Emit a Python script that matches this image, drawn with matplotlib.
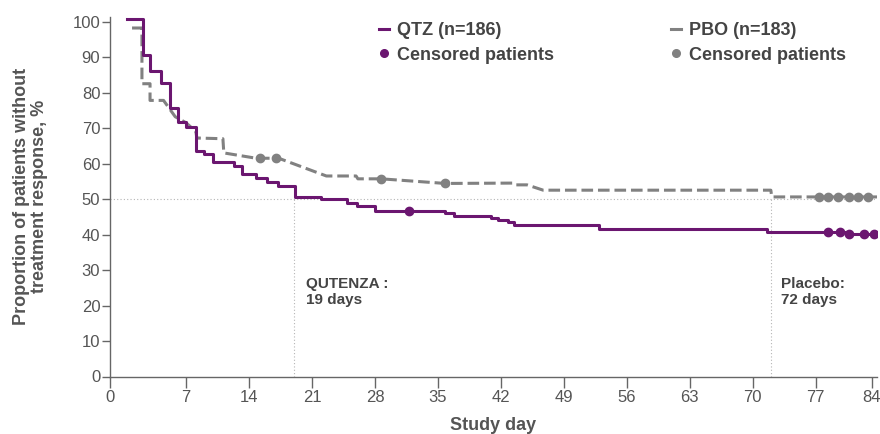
import matplotlib
matplotlib.use("Agg")
import matplotlib.pyplot as plt
from matplotlib.lines import Line2D

# Kaplan-Meier style data
qtz_day = [0.4, 2.26, 3.0, 4.2, 5.2, 6.1, 7.0, 8.1, 9.0, 10.0, 12.3, 13.2, 14.75, 16.0, 17.2,
           19.1, 22.0, 24.9, 26.0, 28.0, 35.8, 36.8, 40.9, 41.7, 42.8, 43.5, 52.9, 71.6, 80.6, 83.7]
qtz_val = [100.8, 90.6, 86.1, 82.6, 75.7, 71.8, 70.2, 63.6, 62.6, 60.5, 59.4, 57.2, 55.8, 54.9, 53.7,
           50.6, 50.0, 48.8, 48.0, 46.6, 46.0, 45.3, 44.6, 44.1, 43.4, 42.7, 41.7, 40.8, 40.1, 40.1]
qtz_cens_day = [31.8, 78.4, 79.7, 80.7, 82.4, 83.5]
qtz_cens_val = [46.6, 40.8, 40.7, 40.1, 40.1, 40.1]

pbo_day = [1.0, 2.1, 2.1, 3.0, 3.0, 4.5, 5.8, 7.0, 8.1, 8.2, 11.1, 11.2, 14.8, 17.3, 22.6,
           25.9, 26.1, 28.7, 35.8, 43.4, 43.6, 44.9, 46.7, 72.0, 72.1, 83.8]
pbo_val = [98.2, 98.2, 82.5, 82.5, 77.8, 77.8, 73.2, 71.5, 69.0, 67.2, 67.0, 63.0, 61.5, 61.5, 56.5,
           56.5, 55.7, 55.7, 54.4, 54.5, 54.0, 54.0, 52.5, 52.5, 50.6, 50.6]
pbo_cens_day = [15.2, 17.0, 28.7, 35.8, 77.3, 78.4, 79.5, 80.7, 81.7, 82.8]
pbo_cens_val = [61.5, 61.5, 55.7, 54.4, 50.6, 50.6, 50.6, 50.6, 50.6, 50.6]

median_qtz = 19
median_pbo = 72

# axis ticks (the end labels sit at the axis ends in the original)
x_tick_pos = [-1.45, 7, 14, 21, 28, 35, 42, 49, 56, 63, 70, 77, 83.2]
x_tick_lab = ["0", "7", "14", "21", "28", "35", "42", "49", "56", "63", "70", "77", "84"]
y_ticks = list(range(0, 101, 10))

purple = "#6b1670"
grey = "#818181"
text_col = "#444444"
axis_col = "#666666"

plt.rcParams["font.family"] = ["Liberation Sans", "DejaVu Sans"]

fig = plt.figure(figsize=(8.8, 4.34), dpi=100)
ax = fig.add_axes([110 / 880, 1 - 376.5 / 434, 767 / 880, 359.5 / 434])

# reference lines for medians
ax.axhline(50, color="#b5b5b5", lw=0.8, ls=(0, (1, 2)), zorder=0)
ax.plot([median_qtz, median_qtz], [0, 50], color="#b5b5b5", lw=0.8, ls=(0, (1, 2)), zorder=0)
ax.plot([median_pbo, median_pbo], [0, 50], color="#b5b5b5", lw=0.8, ls=(0, (1, 2)), zorder=0)

# placebo curve
pbo_line, = ax.plot(pbo_day, pbo_val, color=grey, lw=2.2, zorder=2)
pbo_line.set_dashes((3.8, 1.6))
ax.plot(pbo_cens_day, pbo_cens_val, "o", color=grey, ms=6, zorder=3)

# Qutenza curve
ax.step(qtz_day, qtz_val, where="post", color=purple, lw=2.2, zorder=4)
ax.plot(qtz_cens_day, qtz_cens_val, "o", color=purple, ms=6, zorder=5)

ax.text(20.3, 28.0, "QUTENZA :\n19 days", fontsize=11, fontweight="bold", color=text_col,
        va="top", ha="left", linespacing=1.2)
ax.text(73.1, 28.0, "Placebo:\n72 days", fontsize=11, fontweight="bold", color=text_col,
        va="top", ha="left", linespacing=1.2)

ax.set_xlim(-1.45, 83.8)
ax.set_ylim(0, 101.3)
ax.set_xticks(x_tick_pos)
ax.set_xticklabels(x_tick_lab)
ax.set_yticks(y_ticks)

for s in ["top", "right"]:
    ax.spines[s].set_visible(False)
for s in ["left", "bottom"]:
    ax.spines[s].set_color(axis_col)
    ax.spines[s].set_linewidth(1.0)

ax.tick_params(axis="x", length=8, width=1.0, color=axis_col, pad=2)
ax.tick_params(axis="y", length=6, width=1.0, color=axis_col, pad=1)
for lab in ax.get_xticklabels() + ax.get_yticklabels():
    lab.set_fontsize(12)
    lab.set_color("#555555")

ax.set_xlabel("Study day", fontsize=13, fontweight="bold", color="#555555", labelpad=8)
ax.set_ylabel("Proportion of patients without\ntreatment response, %", fontsize=13,
              fontweight="bold", color="#555555", labelpad=18, linespacing=1.05)

# legends
h_qtz = [Line2D([], [], color=purple, lw=2.2),
         Line2D([], [], color=purple, marker="o", ms=5.5, ls="none")]
h_pbo = [Line2D([], [], color=grey, lw=2.2),
         Line2D([], [], color=grey, marker="o", ms=5.5, ls="none")]
leg_kw = dict(loc="upper left", frameon=False, fontsize=13, handlelength=0.55,
              handletextpad=0.45, labelspacing=0.42, borderpad=0, borderaxespad=0,
              bbox_transform=fig.transFigure)
leg1 = ax.legend(h_qtz, ["QTZ (n=186)", "Censored patients"],
                 bbox_to_anchor=(379 / 880, 1 - 22 / 434), **leg_kw)
for t in leg1.get_texts():
    t.set_fontweight("bold")
    t.set_color(text_col)
ax.add_artist(leg1)
leg2 = ax.legend(h_pbo, ["PBO (n=183)", "Censored patients"],
                 bbox_to_anchor=(671 / 880, 1 - 22 / 434), **leg_kw)
for t in leg2.get_texts():
    t.set_fontweight("bold")
    t.set_color(text_col)

fig.savefig("out.png", dpi=100)
